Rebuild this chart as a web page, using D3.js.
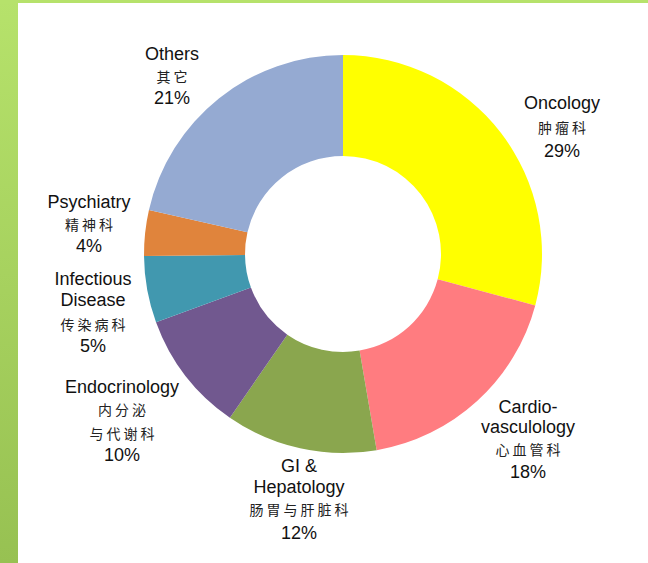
<!DOCTYPE html>
<html>
<head>
<meta charset="utf-8">
<script src="https://cdn.jsdelivr.net/npm/d3@7"></script>
<style>
  body { margin: 0; background: #fff; }
  .en { font-family: "Liberation Sans", Arial, sans-serif; font-size: 18px; fill: #111; }
  .zh { font-family: "Noto Sans CJK SC", sans-serif; font-size: 14px; fill: #222; letter-spacing: 3px; }
</style>
</head>
<body>
<div id="chart"></div>
<script>
const categories = ["Oncology", "Cardio-vasculology", "GI & Hepatology", "Endocrinology",
  "Infectious Disease", "Psychiatry", "Others"];
const namesEn = [["Oncology"], ["Cardio-", "vasculology"], ["GI &", "Hepatology"], ["Endocrinology"],
  ["Infectious", "Disease"], ["Psychiatry"], ["Others"]];
const namesZh = [["肿瘤科"], ["心血管科"], ["肠胃与肝脏科"], ["内分泌", "与代谢科"],
  ["传染病科"], ["精神科"], ["其它"]];
// shares; labels show them rounded
const values = [29.1, 18.1, 12.3, 9.8, 5.4, 3.7, 21.4];
const colors = ["#ffff00", "#ff7c80", "#8aa64e", "#71588f", "#4198af", "#e0843c", "#95aad2"];

const W = 648, H = 563;
const svg = d3.select("#chart").append("svg")
  .attr("width", W)
  .attr("height", H);

// green frame on left / top
const defs = svg.append("defs");
const grad = defs.append("linearGradient").attr("id", "sideGrad")
  .attr("x1", 0).attr("y1", 0).attr("x2", 0).attr("y2", 1);
grad.append("stop").attr("offset", "0%").attr("stop-color", "#b6e26b");
grad.append("stop").attr("offset", "100%").attr("stop-color", "#97c152");
svg.append("rect").attr("x", 0).attr("y", 0).attr("width", 18).attr("height", H).attr("fill", "url(#sideGrad)");
svg.append("rect").attr("x", 0).attr("y", 0).attr("width", W).attr("height", 3).attr("fill", "#b6e26b");

const cx = 343, cy = 254;
const g = svg.append("g").attr("transform", `translate(${cx},${cy})`);

const pie = d3.pie().sort(null).value(d => d);
const arc = d3.arc().innerRadius(98).outerRadius(199);

g.selectAll("path")
  .data(pie(values))
  .enter().append("path")
  .attr("d", arc)
  .attr("fill", (d, i) => colors[i]);

// label anchor (x centre, first baseline) and line gaps
const labelPos = {
  "Oncology": { x: 562, y: 109, gaps: [24, 24] },
  "Cardio-vasculology": { x: 528, y: 413, gaps: [20, 22, 23] },
  "GI & Hepatology": { x: 299, y: 472, gaps: [21, 22, 24] },
  "Endocrinology": { x: 122, y: 393, gaps: [22, 24, 22] },
  "Infectious Disease": { x: 93, y: 285, gaps: [21, 24, 22] },
  "Psychiatry": { x: 89, y: 208, gaps: [22, 22] },
  "Others": { x: 172, y: 60, gaps: [22, 22] }
};

categories.forEach((c, i) => {
  const p = labelPos[c];
  const lines = [];
  namesEn[i].forEach(t => lines.push({ t, cls: "en" }));
  namesZh[i].forEach(t => lines.push({ t, cls: "zh" }));
  lines.push({ t: Math.round(values[i]) + "%", cls: "en" });
  let y = p.y;
  lines.forEach((l, k) => {
    if (k > 0) y += p.gaps[k - 1];
    svg.append("text")
      .attr("class", l.cls)
      .attr("x", l.cls === "zh" ? p.x + 1.5 : p.x)
      .attr("y", y)
      .attr("text-anchor", "middle")
      .text(l.t);
  });
});
</script>
</body>
</html>
